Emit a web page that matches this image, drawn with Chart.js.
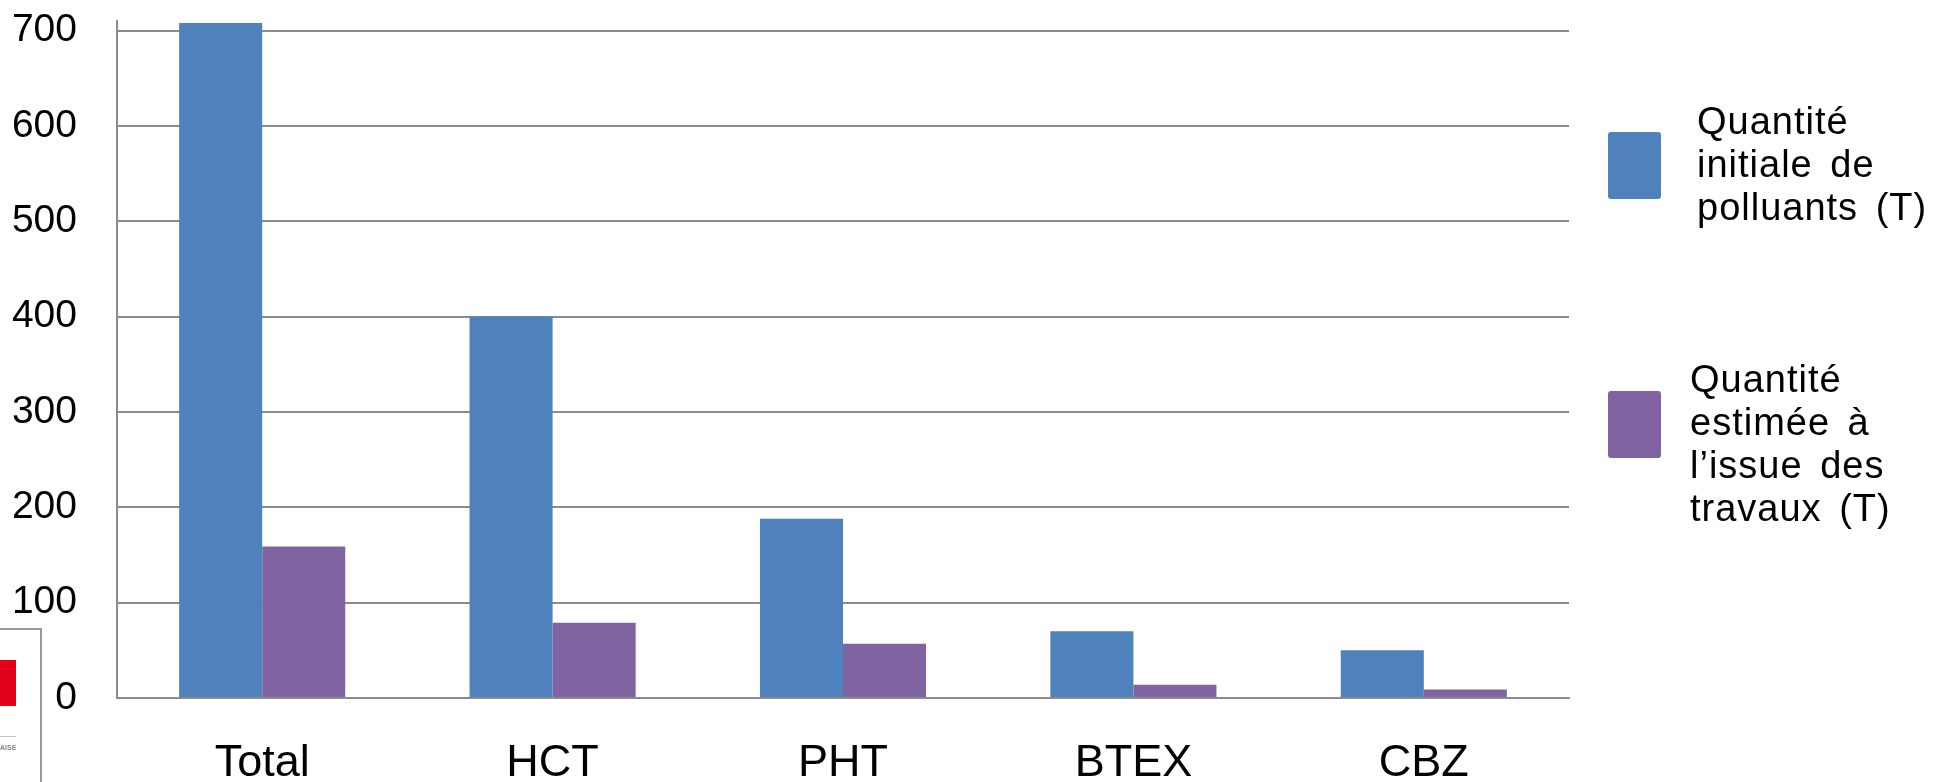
<!DOCTYPE html>
<html>
<head>
<meta charset="utf-8">
<script src="https://cdn.jsdelivr.net/npm/chart.js@4/dist/chart.umd.min.js"></script>
<style>
  html, body { margin: 0; padding: 0; background: #fff; }
  #wrap { width: 1934px; height: 782px; position: relative; }
</style>
</head>
<body>
<div id="wrap"><canvas id="chart" width="1934" height="782"></canvas></div>
<script>
// données
const categories = ['Total', 'HCT', 'PHT', 'BTEX', 'CBZ'];
const initialValues = [708, 400, 188, 70, 50];
const finalValues = [159, 79, 57, 14, 9];
const yTicks = [0, 100, 200, 300, 400, 500, 600, 700];
const seriesLabels = [
  ['Quantité', 'initiale de', 'polluants (T)'],
  ['Quantité', 'estimée à', 'l’issue des', 'travaux (T)'],
];

const BLUE = '#4F81BD';
const PURPLE = '#8064A2';
const GRID = '#8c8c8c';
const FONT = '"Liberation Sans", Arial, sans-serif';

// légende sur plusieurs lignes, à droite (comme dans la diapo)
const sideLegend = {
  id: 'sideLegend',
  afterDraw(chart) {
    const { ctx, chartArea } = chart;
    const x0 = chartArea.right;
    const items = [
      { color: BLUE, boxY: 132, textX: 128, firstBase: 134 },
      { color: PURPLE, boxY: 391, textX: 121, firstBase: 392 },
    ];
    ctx.save();
    items.forEach((it, i) => {
      ctx.fillStyle = it.color;
      ctx.beginPath();
      ctx.roundRect(x0 + 39, it.boxY, 53, 67, 3);
      ctx.fill();
      ctx.fillStyle = '#000';
      ctx.font = '38px ' + FONT;
      ctx.letterSpacing = '1px';
      ctx.wordSpacing = '6px';
      ctx.textBaseline = 'alphabetic';
      seriesLabels[i].forEach((line, k) => {
        ctx.fillText(line, x0 + it.textX, it.firstBase + k * 43);
      });
    });
    ctx.restore();

    // bout de logo coupé en bas à gauche
    ctx.save();
    ctx.strokeStyle = '#9a9a9a';
    ctx.lineWidth = 2;
    ctx.beginPath();
    ctx.moveTo(0, 629);
    ctx.lineTo(41, 629);
    ctx.lineTo(41, 782);
    ctx.stroke();
    ctx.fillStyle = '#e2001a';
    ctx.fillRect(0, 660, 16, 46);
    ctx.strokeStyle = '#c8c8c8';
    ctx.lineWidth = 1;
    ctx.beginPath();
    ctx.moveTo(0, 736.5);
    ctx.lineTo(16, 736.5);
    ctx.stroke();
    ctx.fillStyle = '#888';
    ctx.font = 'bold 7px ' + FONT;
    ctx.fillText('AISE', 0, 750);
    ctx.restore();
  }
};

new Chart(document.getElementById('chart'), {
  type: 'bar',
  data: {
    labels: categories,
    datasets: [
      { label: seriesLabels[0].join(' '), data: initialValues, backgroundColor: BLUE, borderWidth: 0 },
      { label: seriesLabels[1].join(' '), data: finalValues, backgroundColor: PURPLE, borderWidth: 0 },
    ],
  },
  options: {
    responsive: false,
    animation: false,
    devicePixelRatio: 1,
    layout: { padding: { left: 0, right: 365, top: 21, bottom: 0 } },
    datasets: { bar: { categoryPercentage: 0.572, barPercentage: 1 } },
    plugins: { legend: { display: false }, tooltip: { enabled: false } },
    scales: {
      x: {
        grid: { display: false, drawTicks: false },
        border: { display: true, color: GRID, width: 2 },
        ticks: { color: '#000', font: { family: FONT, size: 45 }, padding: 39, maxRotation: 0 },
        afterFit(scale) { scale.height = 84; },
      },
      y: {
        min: 0,
        max: 710,
        grid: { color: GRID, lineWidth: 2, drawTicks: false },
        border: { display: true, color: GRID, width: 2 },
        ticks: { color: '#000', font: { family: FONT, size: 39 }, padding: 40, includeBounds: false },
        afterBuildTicks(scale) { scale.ticks = yTicks.map(v => ({ value: v })); },
        afterFit(scale) {
          scale.width = 117;
          // le padding des ticks ne doit pas pousser la zone du graphique
          scale.paddingTop = 0;
          scale.paddingBottom = 0;
        },
      },
    },
  },
  plugins: [sideLegend],
});
</script>
</body>
</html>
